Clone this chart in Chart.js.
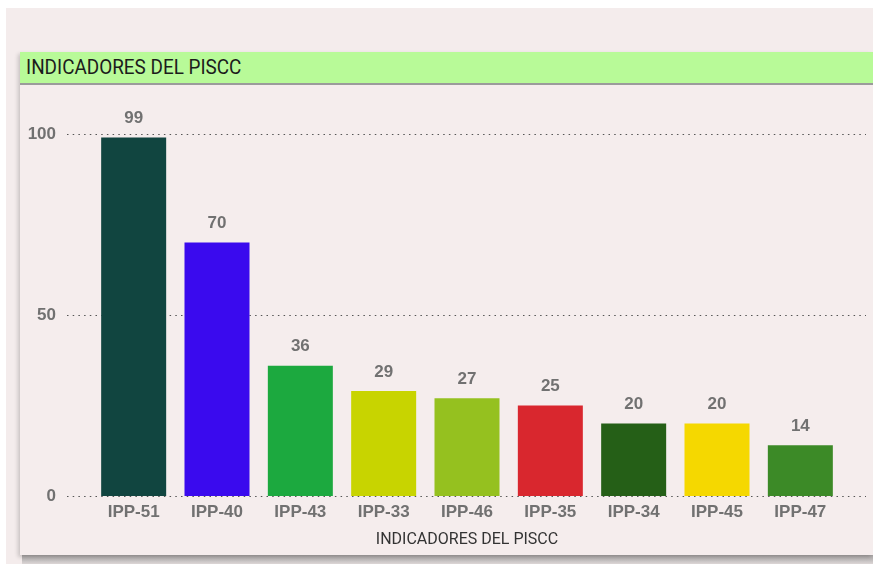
<!DOCTYPE html>
<html>
<head>
<meta charset="utf-8">
<script src="https://cdn.jsdelivr.net/npm/chart.js@4.4.1/dist/chart.umd.min.js"></script>
<style>
  html, body { margin: 0; padding: 0; width: 873px; height: 564px; overflow: hidden; background: #ffffff; }
  #outer { position: absolute; left: 6px; top: 8px; right: 0; bottom: 0; background: #f4ecec; }
  #shadow { position: absolute; left: 22px; top: 555px; width: 851px; height: 9px;
            background: linear-gradient(#aaa6a6, #c4c0c0 60%, #dcd6d6); }
  #panel { position: absolute; left: 20px; top: 52px; width: 853px; height: 503px; background: #f5eded;
           box-shadow: -2px 2px 4px rgba(0,0,0,0.18); }
  #header { position: absolute; left: 0; top: 0; width: 853px; height: 31px; background: #b8fa98;
            border-bottom: 2px solid #9b9b9b; }
  #header span { position: absolute; left: 6px; top: 3px; font-family: Roboto, "DejaVu Sans Condensed", sans-serif;
                 font-size: 21px; color: #1c1c1c; transform-origin: 0 50%; transform: scaleX(0.9); white-space: nowrap; }
  #c { position: absolute; left: 0; top: 0; }
</style>
</head>
<body>
<div id="outer"></div>
<div id="shadow"></div>
<div id="panel"><div id="header"><span>INDICADORES DEL PISCC</span></div></div>
<canvas id="c" width="873" height="564"></canvas>
<script>
const categories = ["IPP-51", "IPP-40", "IPP-43", "IPP-33", "IPP-46", "IPP-35", "IPP-34", "IPP-45", "IPP-47"];
const values = [99, 70, 36, 29, 27, 25, 20, 20, 14];
const barColors = ["#114540", "#3a0aee", "#1ca93f", "#c8d400", "#95c11f", "#d9272e", "#255f17", "#f5d800", "#3c8a27"];
const yTicks = [0, 50, 100];
const axisTitle = "INDICADORES DEL PISCC";

const labelFont = '"Liberation Sans", Arial, sans-serif';

const gridPlugin = {
  id: 'dottedGrid',
  beforeDatasetsDraw(chart) {
    const ctx = chart.ctx, y = chart.scales.y;
    ctx.save();
    ctx.strokeStyle = '#555555';
    ctx.lineWidth = 1.2;
    ctx.setLineDash([1.5, 4.2]);
    yTicks.forEach(v => {
      const py = Math.round(y.getPixelForValue(v)) + 0.5;
      ctx.beginPath();
      ctx.moveTo(67, py);
      ctx.lineTo(866, py);
      ctx.stroke();
    });
    ctx.restore();
  }
};

const valueLabels = {
  id: 'valueLabels',
  afterDatasetsDraw(chart) {
    const ctx = chart.ctx;
    const meta = chart.getDatasetMeta(0);
    ctx.save();
    ctx.font = 'bold 17px ' + labelFont;
    ctx.fillStyle = '#717171';
    ctx.textAlign = 'center';
    ctx.textBaseline = 'middle';
    meta.data.forEach((bar, i) => {
      ctx.fillText(String(values[i]), bar.x, bar.y - 19);
    });
    ctx.restore();
  }
};

new Chart(document.getElementById('c'), {
  type: 'bar',
  data: {
    labels: categories,
    datasets: [{ data: values, backgroundColor: barColors, borderWidth: 0,
                 categoryPercentage: 1, barPercentage: 0.78 }]
  },
  options: {
    responsive: false,
    animation: false,
    events: [],
    layout: { padding: { left: 0, right: 31, top: 134, bottom: 0 } },
    plugins: { legend: { display: false }, tooltip: { enabled: false } },
    scales: {
      y: {
        min: 0, max: 100,
        afterFit(s) { s.width = 92; },
        afterBuildTicks(s) { s.ticks = yTicks.map(v => ({ value: v })); },
        grid: { display: false, drawTicks: false },
        border: { display: false },
        ticks: { padding: 36, color: '#717171', font: { family: labelFont, weight: 'bold', size: 17 } }
      },
      x: {
        afterFit(s) { s.height = 68; },
        grid: { display: false, drawTicks: false },
        border: { display: false },
        ticks: { padding: 6, color: '#717171', font: { family: labelFont, weight: 'bold', size: 17 } },
        title: { display: true, text: axisTitle, color: '#333333', padding: { top: 0, bottom: 14 },
                 font: { family: 'Roboto, sans-serif', size: 16 } }
      }
    }
  },
  plugins: [gridPlugin, valueLabels]
});
</script>
</body>
</html>
